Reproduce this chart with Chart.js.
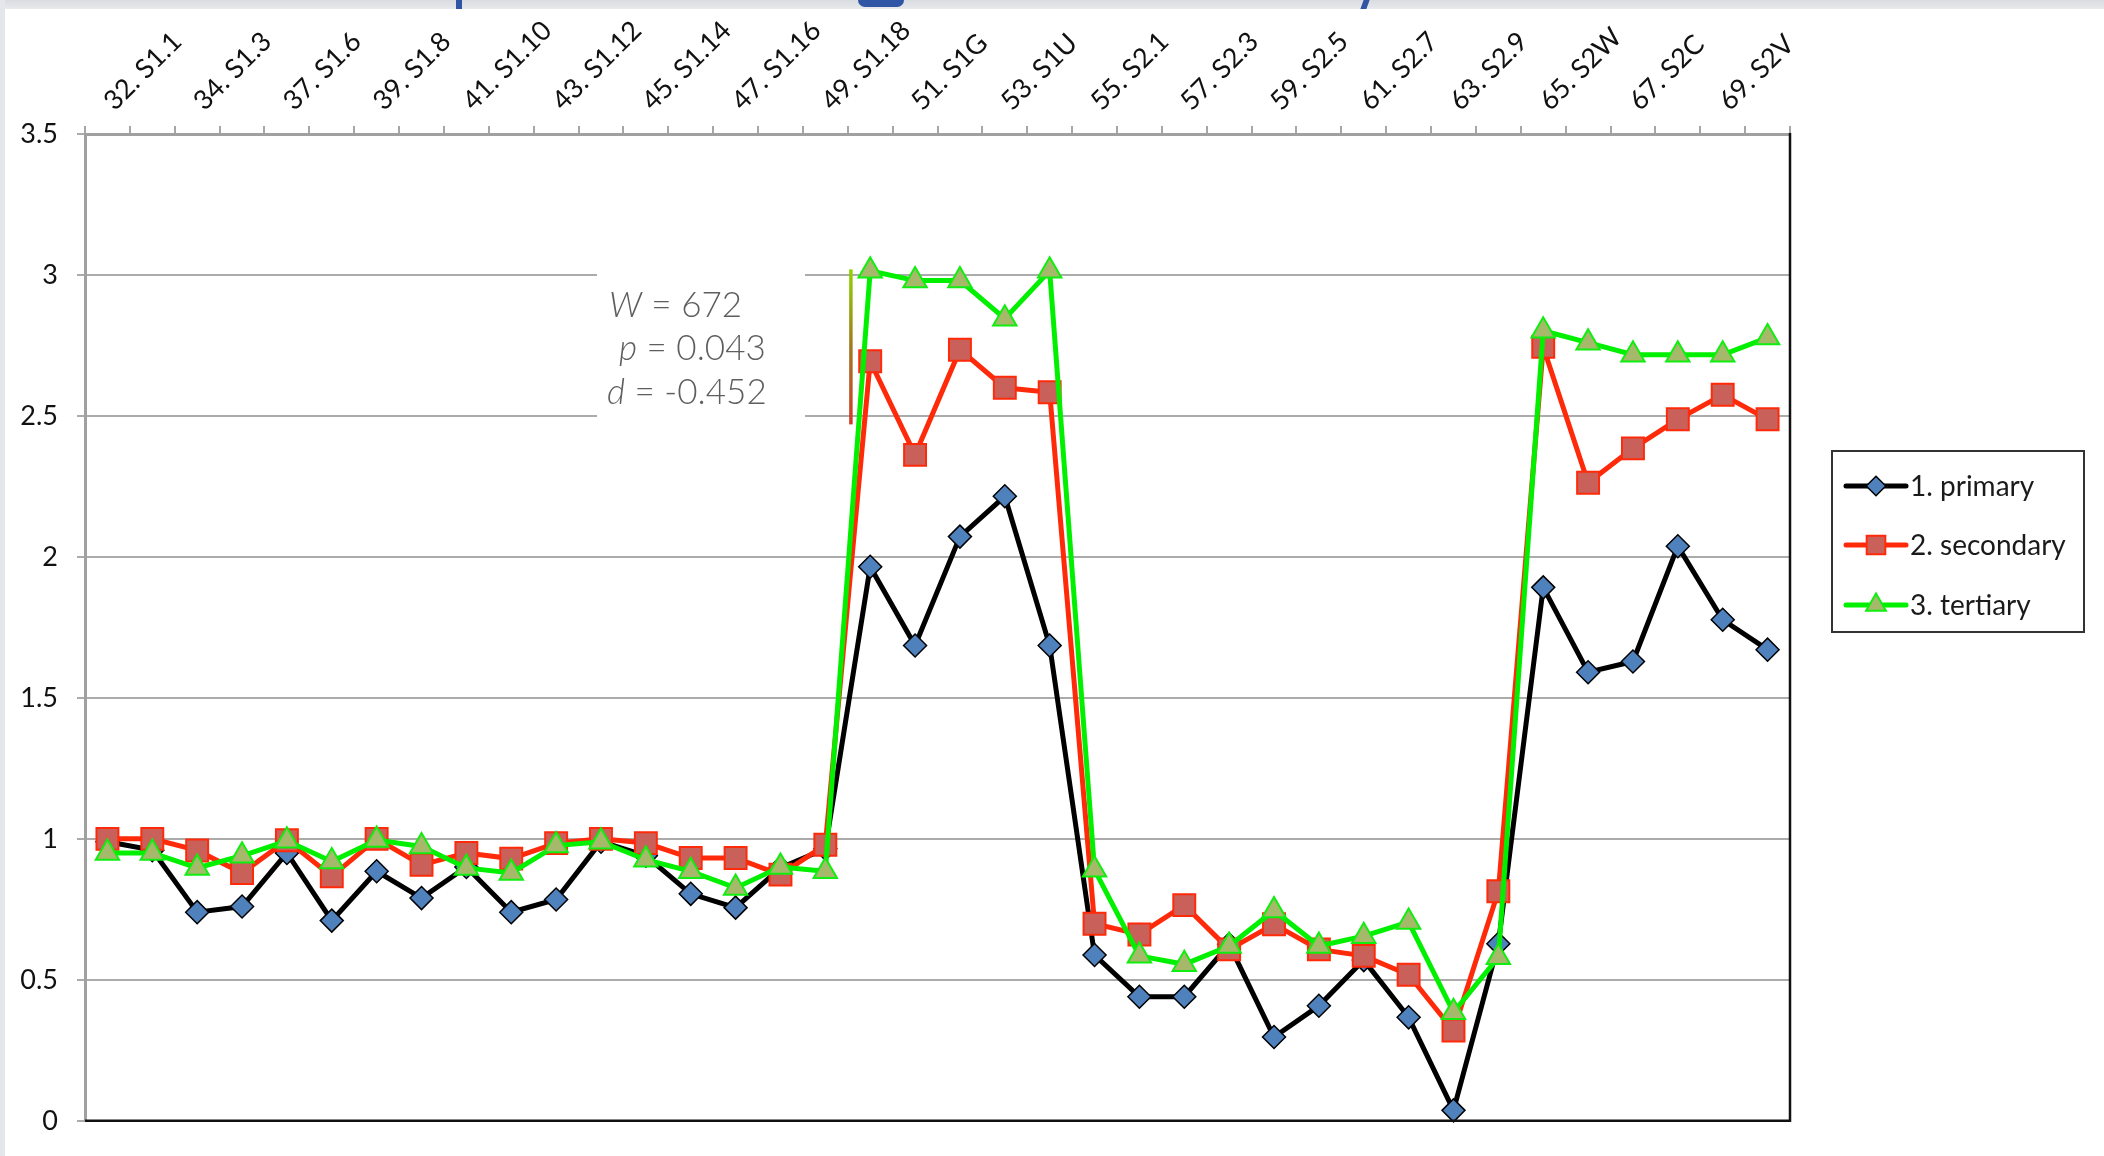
<!DOCTYPE html>
<html>
<head>
<meta charset="utf-8">
<script src="https://cdn.jsdelivr.net/npm/chart.js@4"></script>
<style>
  html, body { margin: 0; padding: 0; background: #ffffff; }
  #wrap { position: absolute; left: 0; top: 0; width: 2104px; height: 1156px; background: #fff; }
  #band { position: absolute; left: 0; top: 0; width: 2104px; height: 9px; background: linear-gradient(#d9dce1, #e7e9ec); z-index: 2; }
  #lstrip { position: absolute; left: 0; top: 0; width: 5px; height: 1156px; background: #e3e6ea; z-index: 2; }
  .frag { position: absolute; background: #2f55a4; z-index: 3; }
  canvas { position: absolute; left: 0; top: 0; }
</style>
</head>
<body>
<div id="wrap">
  <canvas id="c" width="2104" height="1156"></canvas>
  <div id="band"></div>
  <div id="lstrip"></div>
  <div class="frag" style="left:456px;top:0;width:6px;height:9px;"></div>
  <div class="frag" style="left:858px;top:0;width:46px;height:7px;border-radius:0 0 23px 23px;"></div>
  <div class="frag" style="left:1362px;top:0;width:6px;height:9px;transform:skewX(-20deg);"></div>
</div>
<script>
// ---------------- data ----------------
const categories = ['32. S1.1','33. S1.2','34. S1.3','35. S1.4','37. S1.6','38. S1.7','39. S1.8','40. S1.9',
  '41. S1.10','42. S1.11','43. S1.12','44. S1.13','45. S1.14','46. S1.15','47. S1.16','48. S1.17','49. S1.18',
  '50. S1B','51. S1G','52. S1R','53. S1U','54. S1Y','55. S2.1','56. S2.2','57. S2.3','58. S2.4','59. S2.5',
  '60. S2.6','61. S2.7','62. S2.8','63. S2.9','64. S2B','65. S2W','66. S2A','67. S2C','68. S2T','69. S2V','70. S2Z'];

const primary = [0.99, 0.96, 0.74, 0.76, 0.95, 0.71, 0.885, 0.79, 0.90, 0.74, 0.785, 0.99, 0.94, 0.805, 0.756, 0.897, 0.965,
  1.965, 1.686, 2.072, 2.215, 1.686,
  0.588, 0.44, 0.44, 0.626, 0.297, 0.408, 0.57, 0.367, 0.037, 0.628,
  1.892, 1.591, 1.629, 2.038, 1.777, 1.671];

const secondary = [1.0, 1.0, 0.959, 0.879, 0.995, 0.867, 1.0, 0.908, 0.95, 0.93, 0.985, 1.0, 0.985, 0.932, 0.932, 0.873, 0.979,
  2.694, 2.362, 2.735, 2.60, 2.584,
  0.699, 0.661, 0.765, 0.608, 0.697, 0.608, 0.585, 0.518, 0.32, 0.814,
  2.745, 2.263, 2.385, 2.488, 2.575, 2.488];

const tertiary = [0.95, 0.95, 0.897, 0.94, 0.993, 0.92, 0.996, 0.973, 0.897, 0.879, 0.976, 0.99, 0.926, 0.885, 0.826, 0.90, 0.885,
  3.015, 2.98, 2.98, 2.845, 3.015,
  0.89, 0.585, 0.555, 0.62, 0.746, 0.62, 0.655, 0.705, 0.385, 0.58,
  2.802, 2.76, 2.717, 2.717, 2.717, 2.778];

const seriesNames = ['1. primary', '2. secondary', '3. tertiary'];
const yTicks = [0, 0.5, 1, 1.5, 2, 2.5, 3, 3.5];
const statLines = [['W', ' = 672'], ['p', ' = 0.043'], ['d', ' = -0.452']];

// ---------------- styles ----------------
const FONT = 'Lato, "Open Sans", sans-serif';
const styles = [
  { line: '#000000', fill: '#4f81bd', border: '#000000', bw: 1.5, shape: 'rectRot', r: 11.5 },
  { line: '#ff2a0a', fill: '#c9605a', border: '#ff2a0a', bw: 2, shape: 'rect', r: 15.5 },
  { line: '#00f000', fill: '#a6b96a', border: '#10ee10', bw: 2, shape: 'triangle', r: 13.5 }
];
const seriesData = [primary, secondary, tertiary];

const datasets = seriesData.map((d, i) => ({
  label: seriesNames[i],
  data: d,
  borderColor: styles[i].line,
  borderWidth: 5,
  pointStyle: styles[i].shape,
  pointRadius: styles[i].r,
  pointHoverRadius: styles[i].r,
  pointBackgroundColor: styles[i].fill,
  pointBorderColor: styles[i].border,
  pointBorderWidth: styles[i].bw,
  tension: 0,
  fill: false,
  clip: false,
  order: 3 - i
}));

function drawMarker(ctx, st, x, y, scale) {
  const r = st.r * scale;
  ctx.save();
  ctx.fillStyle = st.fill;
  ctx.strokeStyle = st.border;
  ctx.lineWidth = st.bw;
  ctx.beginPath();
  if (st.shape === 'rectRot') {
    ctx.moveTo(x, y - r); ctx.lineTo(x + r, y); ctx.lineTo(x, y + r); ctx.lineTo(x - r, y); ctx.closePath();
  } else if (st.shape === 'rect') {
    const s = Math.SQRT1_2 * r;
    ctx.rect(x - s, y - s, 2 * s, 2 * s);
  } else {
    for (let k = 0; k < 3; k++) {
      const a = k * 2 * Math.PI / 3;
      const px = x + Math.sin(a) * r, py = y - Math.cos(a) * r;
      if (k === 0) ctx.moveTo(px, py); else ctx.lineTo(px, py);
    }
    ctx.closePath();
  }
  ctx.fill();
  ctx.stroke();
  ctx.restore();
}

const deco = {
  id: 'deco',
  beforeDatasetsDraw(chart) {
    const ctx = chart.ctx;
    // white box behind statistics text (covers gridlines)
    ctx.save();
    ctx.fillStyle = '#ffffff';
    ctx.fillRect(597, 262, 208, 170);
    ctx.fillStyle = '#5e5e5e';
    ctx.textBaseline = 'alphabetic';
    const starts = [609, 619, 607];
    const bases = [317, 360, 404];
    statLines.forEach((ln, i) => {
      ctx.font = 'italic 300 35px ' + FONT;
      ctx.fillText(ln[0], starts[i], bases[i]);
      const w = ctx.measureText(ln[0]).width;
      ctx.font = '300 35px ' + FONT;
      ctx.fillText(ln[1], starts[i] + w, bases[i]);
    });
    ctx.restore();
  },
  afterDatasetsDraw(chart) {
    const ctx = chart.ctx;
    const a = chart.chartArea;
    const xs = chart.scales.x, ys = chart.scales.y;
    ctx.save();
    // right and bottom frame in black
    ctx.strokeStyle = '#111111';
    ctx.lineWidth = 2.5;
    ctx.beginPath();
    ctx.moveTo(a.left, a.bottom); ctx.lineTo(a.right, a.bottom); ctx.lineTo(a.right, a.top - 1);
    ctx.stroke();

    // gradient bar between categories 16 and 17
    const x16 = xs.getPixelForValue(16), x17 = xs.getPixelForValue(17);
    const bx = x16 + 0.57 * (x17 - x16);
    const by1 = ys.getPixelForValue(3.02), by2 = ys.getPixelForValue(2.47);
    const g = ctx.createLinearGradient(0, by1, 0, by2);
    g.addColorStop(0, '#8ed400');
    g.addColorStop(0.5, '#a07a22');
    g.addColorStop(1, '#d23a2a');
    ctx.strokeStyle = g;
    ctx.lineWidth = 3.5;
    ctx.beginPath(); ctx.moveTo(bx, by1); ctx.lineTo(bx, by2); ctx.stroke();

    // legend
    const L = { x: 1832, y: 451, w: 252, h: 181 };
    ctx.fillStyle = '#ffffff';
    ctx.fillRect(L.x, L.y, L.w, L.h);
    ctx.strokeStyle = '#333333';
    ctx.lineWidth = 2;
    ctx.strokeRect(L.x, L.y, L.w, L.h);
    const rows = [486, 545, 605];
    ctx.font = '28px ' + FONT;
    ctx.textBaseline = 'middle';
    ctx.textAlign = 'left';
    seriesNames.forEach((name, i) => {
      const y = rows[i];
      ctx.strokeStyle = styles[i].line;
      ctx.lineWidth = 5;
      ctx.lineCap = 'round';
      ctx.beginPath(); ctx.moveTo(1846, y); ctx.lineTo(1906, y); ctx.stroke();
      drawMarker(ctx, styles[i], 1876, y, 0.85);
      ctx.fillStyle = '#1a1a1a';
      ctx.fillText(name, 1910, y + 1);
    });
    ctx.restore();
  }
};

new Chart(document.getElementById('c'), {
  type: 'line',
  data: { labels: categories, datasets },
  options: {
    responsive: false,
    animation: false,
    devicePixelRatio: 1,
    layout: { padding: { left: 0, top: 0, right: 314, bottom: 31 } },
    plugins: { legend: { display: false }, tooltip: { enabled: false } },
    scales: {
      x: {
        type: 'category',
        position: 'top',
        offset: true,
        afterFit(s) { s.height = 134; },
        grid: { display: true, drawOnChartArea: false, drawTicks: true, tickLength: 8, color: '#a6a6a6', lineWidth: 2, offset: true },
        border: { display: true, color: '#a0a0a0', width: 3 },
        ticks: {
          autoSkip: false, minRotation: 45, maxRotation: 45, padding: 9, labelOffset: 24,
          color: '#111111', font: { family: FONT, size: 27 },
          callback: (v, i) => (i % 2 === 0 ? categories[i] : '')
        }
      },
      y: {
        min: 0, max: 3.5,
        afterFit(s) { s.width = 85; },
        afterBuildTicks(s) { s.ticks = yTicks.map(v => ({ value: v })); },
        grid: { color: '#ababab', lineWidth: 2, drawTicks: true, tickLength: 8 },
        border: { display: true, color: '#a0a0a0', width: 3 },
        ticks: {
          padding: 19, color: '#111111', font: { family: FONT, size: 27 },
          callback: v => String(v)
        }
      }
    }
  },
  plugins: [deco]
});
</script>
</body>
</html>
